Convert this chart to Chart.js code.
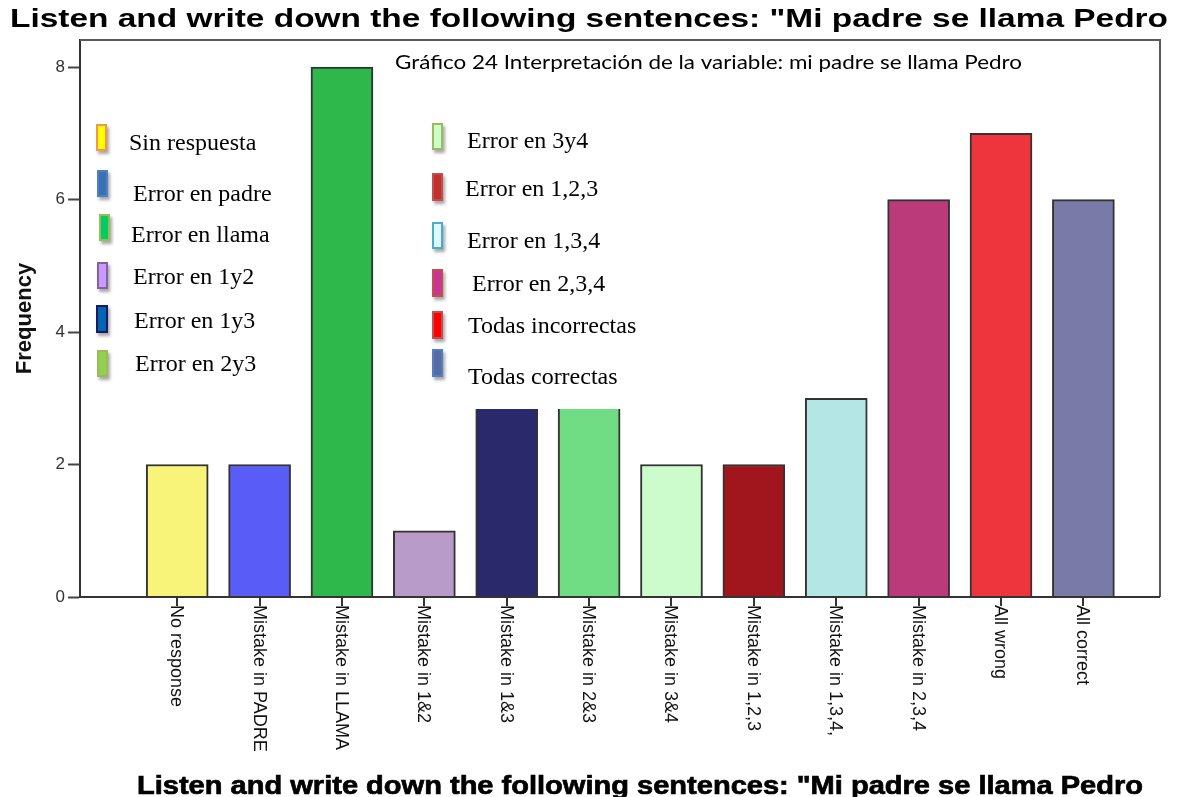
<!DOCTYPE html>
<html>
<head>
<meta charset="utf-8">
<script src="https://cdn.jsdelivr.net/npm/chart.js@4.4.1/dist/chart.umd.min.js"></script>
<style>
  html, body { margin: 0; padding: 0; background: #fff; }
  #wrap { width: 1180px; height: 797px; }
</style>
</head>
<body>
<div id="wrap"><canvas id="chart" width="1180" height="797"></canvas></div>
<script>
// Categories and counts for the sentence "Mi padre se llama Pedro"
const categories = [
    'No response', 'Mistake in PADRE', 'Mistake in LLAMA', 'Mistake in 1&2',
    'Mistake in 1&3', 'Mistake in 2&3', 'Mistake in 3&4', 'Mistake in 1,2,3',
    'Mistake in 1,3,4,', 'Mistake in 2,3,4', 'All wrong', 'All correct'
];
const frequencies = [2, 2, 8, 1, 3, 3, 2, 2, 3, 6, 7, 6];
const yTicks = [0, 2, 4, 6, 8];

const barColors = [
    '#f8f47a', '#5a5cf8', '#2eb84b', '#b89bc8', '#29296c', '#70dc84',
    '#ccfccb', '#a1161d', '#b5e6e6', '#bb3b7a', '#ee343d', '#7a7aa8'
];

// Spanish legend labels (two columns)
const legendLeft = ['Sin respuesta', 'Error en padre', 'Error en llama', 'Error en 1y2', 'Error en 1y3', 'Error en 2y3'];
const legendRight = ['Error en 3y4', 'Error en 1,2,3', 'Error en 1,3,4', 'Error en 2,3,4', 'Todas incorrectas', 'Todas correctas'];

const titleText = 'Listen and write down the following sentences: "Mi padre se llama Pedro';
const noteText = 'Gráfico 24 Interpretación de la variable: mi padre se llama Pedro';

// swatch: [x, y, w, h, fill, stroke], text: [x, y]
const legendLeftStyle = [
    { sw: [96, 124, 11, 27, '#ffff00', '#f79646'], tx: [129, 144] },
    { sw: [97, 170, 11, 27, '#3a70b8', '#4f81bd'], tx: [133, 195] },
    { sw: [99, 214, 11, 27, '#00cc66', '#9bbb59'], tx: [131, 236] },
    { sw: [97, 262, 11, 27, '#cc99ff', '#8064a2'], tx: [133, 278] },
    { sw: [96, 305, 12, 28, '#0066b3', '#1a1a5c'], tx: [134, 322] },
    { sw: [97, 350, 11, 27, '#92d050', '#9bbb59'], tx: [135, 365] }
];
const legendRightStyle = [
    { sw: [432, 123, 11, 27, '#ccffcc', '#9bbb59'], tx: [467, 142] },
    { sw: [432, 173, 11, 28, '#c0302c', '#c0504d'], tx: [465, 190] },
    { sw: [432, 222, 11, 27, '#ddf7ff', '#4bacc6'], tx: [467, 242] },
    { sw: [432, 269, 11, 28, '#cc3399', '#c0504d'], tx: [472, 285] },
    { sw: [432, 311, 11, 28, '#ff0000', '#c0504d'], tx: [468, 327] },
    { sw: [432, 349, 11, 28, '#5a6aa6', '#4f81bd'], tx: [468, 378] }
];

function fitText(ctx, text, x, y, width, font) {
    ctx.save();
    ctx.font = font;
    const w = ctx.measureText(text).width;
    ctx.translate(x, y);
    ctx.scale(width / w, 1);
    ctx.textAlign = 'left';
    ctx.textBaseline = 'alphabetic';
    ctx.fillText(text, 0, 0);
    ctx.restore();
}

function drawSwatch(ctx, s) {
    const [x, y, w, h, fill, stroke] = s;
    ctx.save();
    ctx.shadowColor = 'rgba(0,0,0,0.35)';
    ctx.shadowOffsetX = 2;
    ctx.shadowOffsetY = 3;
    ctx.shadowBlur = 3;
    ctx.fillStyle = fill;
    ctx.fillRect(x, y, w, h);
    ctx.restore();
    ctx.strokeStyle = stroke;
    ctx.lineWidth = 2;
    ctx.strokeRect(x + 1, y + 1, w - 2, h - 2);
}

const decor = {
    id: 'decor',
    beforeDraw(chart) {
        const ctx = chart.ctx;
        ctx.save();
        ctx.fillStyle = '#fff';
        ctx.fillRect(0, 0, chart.width, chart.height);
        ctx.restore();
    },
    afterDatasetsDraw(chart) {
        const ctx = chart.ctx;
        const area = chart.chartArea;
        const xs = chart.scales.x;
        ctx.save();

        // frame
        ctx.lineWidth = 2;
        ctx.strokeStyle = '#5a5a5a';
        ctx.beginPath();
        ctx.moveTo(area.left, area.top);
        ctx.lineTo(area.right, area.top);
        ctx.lineTo(area.right, area.bottom);
        ctx.stroke();
        ctx.strokeStyle = '#333';
        ctx.beginPath();
        ctx.moveTo(area.left, area.bottom);
        ctx.lineTo(area.right, area.bottom);
        ctx.stroke();

        // category ticks and rotated labels
        ctx.fillStyle = '#111';
        ctx.font = '18px "Liberation Sans", Arial, sans-serif';
        categories.forEach((name, i) => {
            const px = Math.round(xs.getPixelForValue(i));
            ctx.beginPath();
            ctx.moveTo(px, area.bottom);
            ctx.lineTo(px, area.bottom + 9);
            ctx.stroke();
            ctx.save();
            ctx.translate(px - 1, area.bottom + 8);
            ctx.rotate(Math.PI / 2);
            ctx.textAlign = 'left';
            ctx.textBaseline = 'middle';
            ctx.fillText(name, 0, 0);
            ctx.restore();
        });

        // the pasted legend panel sits over the bars
        ctx.fillStyle = '#fff';
        ctx.fillRect(425, 100, 225, 309);

        ctx.fillStyle = '#000';
        ctx.font = '24px "Liberation Serif", "Times New Roman", serif';
        ctx.textBaseline = 'middle';
        ctx.textAlign = 'left';
        [[legendLeft, legendLeftStyle], [legendRight, legendRightStyle]].forEach(([labels, styles]) => {
            labels.forEach((label, i) => {
                drawSwatch(ctx, styles[i].sw);
                ctx.fillStyle = '#000';
                ctx.fillText(label, styles[i].tx[0], styles[i].tx[1]);
            });
        });

        // note line inside the plot
        ctx.fillStyle = '#000';
        fitText(ctx, noteText, 395, 69, 627, '19px Lato, "Open Sans", sans-serif');

        // titles
        fitText(ctx, titleText, 10, 27, 1158, 'bold 25px "Liberation Sans", Arial, sans-serif');
        ctx.lineWidth = 0.7;
        ctx.strokeStyle = '#000';
        ctx.save();
        ctx.font = 'bold 26px "Liberation Sans", Arial, sans-serif';
        const w = ctx.measureText(titleText).width;
        ctx.translate(137, 787);
        ctx.scale(1006 / w, 1);
        ctx.fillText(titleText, 0, 0);
        ctx.strokeText(titleText, 0, 0);
        ctx.restore();

        ctx.restore();
    }
};

new Chart(document.getElementById('chart').getContext('2d'), {
    type: 'bar',
    data: {
        datasets: [{
            label: 'Frequency',
            data: frequencies.map((v, i) => ({ x: i, y: v })),
            backgroundColor: barColors,
            borderColor: '#333',
            borderWidth: 2,
            barThickness: 62
        }]
    },
    options: {
        responsive: false,
        animation: false,
        devicePixelRatio: 1,
        layout: {
            padding: { top: 40, right: 20, bottom: 200, left: 0 }
        },
        plugins: {
            legend: { display: false },
            tooltip: { enabled: false },
            title: { display: false }
        },
        scales: {
            x: {
                type: 'linear',
                display: false,
                offset: false,
                grid: { offset: false },
                min: -1.18,
                max: 11.93
            },
            y: {
                min: 0,
                max: 8.41,
                afterBuildTicks: function(scale) {
                    scale.ticks = yTicks.map(v => ({ value: v }));
                },
                afterFit: function(scale) {
                    scale.width = 80;
                },
                grid: {
                    drawOnChartArea: false,
                    tickLength: 12,
                    tickWidth: 2,
                    color: '#444'
                },
                border: { display: true, color: '#333', width: 2 },
                ticks: {
                    padding: 3,
                    color: '#333',
                    font: { family: '"Liberation Sans", Arial, sans-serif', size: 17 }
                },
                title: {
                    display: true,
                    text: 'Frequency',
                    color: '#111',
                    padding: { top: 12, bottom: 0 },
                    font: { family: '"Liberation Sans", Arial, sans-serif', size: 22, weight: 'bold' }
                }
            }
        }
    },
    plugins: [decor]
});
</script>
</body>
</html>
